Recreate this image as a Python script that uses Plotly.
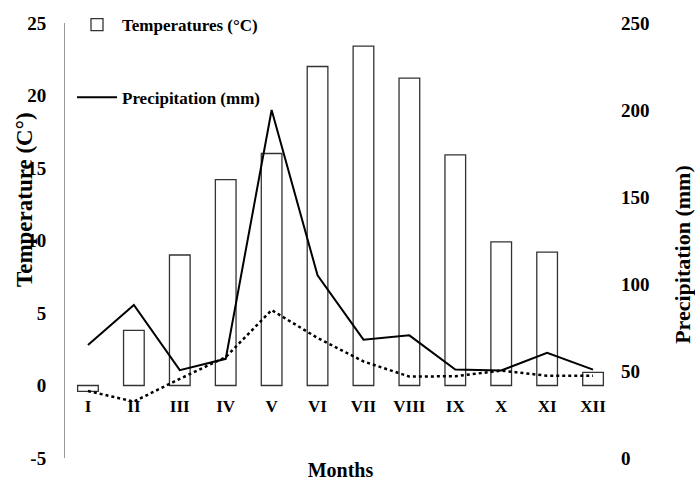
import plotly.graph_objects as go

months = ["I", "II", "III", "IV", "V", "VI", "VII", "VIII", "IX", "X", "XI", "XII"]
temperature = [-0.4, 3.8, 9.0, 14.2, 16.0, 22.0, 23.4, 21.2, 15.9, 9.9, 9.2, 0.9]
precipitation = [65, 88, 50.5, 57, 200, 105, 68, 70.5, 50.8, 50.3, 60.5, 50.8]
second_series = [38.5, 32.4, 45.5, 58, 85, 69, 55.5, 46.8, 47, 50.2, 47.3, 47.3]

temp_ticks = [-5, 0, 5, 10, 15, 20, 25]
temp_tick_labels = ["-5", "0", "5", "10", "15", "20", "25"]
prec_ticks = [0, 50, 100, 150, 200, 250]
prec_tick_labels = ["0", "50", "100", "150", "200", "250"]

FONT = "Liberation Serif"

fig = go.Figure()
fig.add_trace(go.Bar(
    x=months, y=temperature, name="Temperatures (°C)", yaxis="y",
    marker=dict(color="white", line=dict(color="#333333", width=1.3)),
    width=0.45, legend="legend",
))
fig.add_trace(go.Scatter(
    x=months, y=precipitation, name="Precipitation (mm)", yaxis="y2",
    mode="lines", line=dict(color="black", width=2), legend="legend2",
))
fig.add_trace(go.Scatter(
    x=months, y=second_series, yaxis="y2", showlegend=False,
    mode="lines", line=dict(color="black", width=2.5, dash="dot"),
))

fig.update_layout(
    width=695, height=481,
    margin=dict(l=65, r=79, t=23, b=23, autoexpand=False),
    plot_bgcolor="white", paper_bgcolor="white",
    font=dict(family=FONT, color="black"),
    xaxis=dict(
        anchor="free", position=5/30, showline=False, showgrid=False,
        ticks="", zeroline=False, ticklabelstandoff=8,
        tickfont=dict(family=FONT, size=17, weight="bold"),
        title=dict(text="Months", font=dict(family=FONT, size=20, weight="bold"), standoff=48),
        automargin=False,
    ),
    yaxis=dict(
        range=[-5, 25], tickvals=temp_ticks, ticktext=temp_tick_labels,
        showgrid=False, zeroline=False,
        showline=True, linecolor="#999999", linewidth=1, ticks="",
        ticklabelstandoff=14,
        tickfont=dict(family=FONT, size=19, weight="bold"),
        automargin=False,
    ),
    yaxis2=dict(
        range=[0, 250], tickvals=prec_ticks, ticktext=prec_tick_labels,
        overlaying="y", side="right",
        showgrid=False, zeroline=False, showline=False, ticks="",
        ticklabelstandoff=4,
        tickfont=dict(family=FONT, size=19, weight="bold"),
        automargin=False,
    ),
    legend=dict(
        x=0.0127, y=0.995, xanchor="left", yanchor="middle",
        bgcolor="rgba(0,0,0,0)",
        font=dict(family=FONT, size=17, weight="bold"),
        itemwidth=40,
    ),
    legend2=dict(
        x=0.0127, y=0.828, xanchor="left", yanchor="middle",
        bgcolor="rgba(0,0,0,0)",
        font=dict(family=FONT, size=17, weight="bold"),
        itemwidth=40,
    ),
    annotations=[
        dict(text="Temperature (C°)", textangle=-90, xref="paper", yref="paper",
             x=-0.0744, y=0.593, xanchor="center", yanchor="middle", showarrow=False,
             font=dict(family=FONT, size=23, weight="bold")),
        dict(text="Precipitation (mm)", textangle=-90, xref="paper", yref="paper",
             x=1.1216, y=0.467, xanchor="center", yanchor="middle", showarrow=False,
             font=dict(family=FONT, size=22, weight="bold")),
    ],
)

fig.write_html(
    "out.html",
    config={"displayModeBar": False},
    post_script="document.body.style.margin='0';document.body.style.overflow='hidden';",
)
